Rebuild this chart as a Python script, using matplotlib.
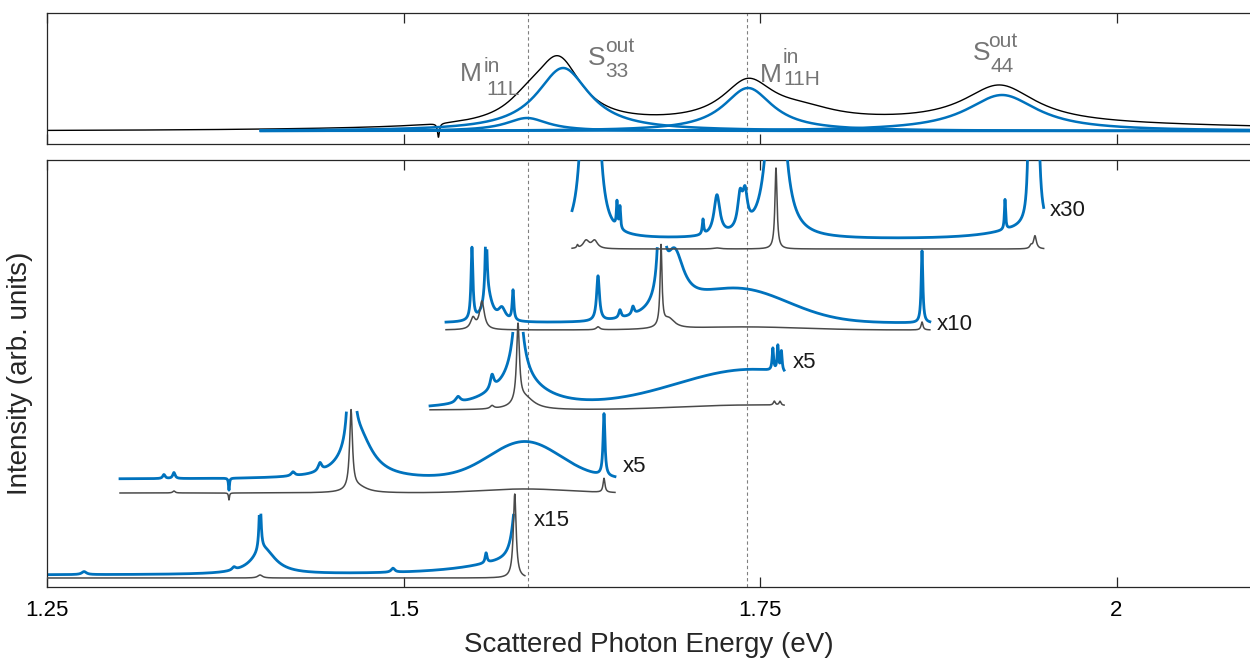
import numpy as np
import matplotlib
matplotlib.use("Agg")
import matplotlib.pyplot as plt

plt.rcParams["font.family"] = ["Liberation Sans", "DejaVu Sans"]

BLUE = "#0072BD"
GRAY = "#4a4a4a"
AXIS = "#262626"
LABEL_GRAY = "#757575"

E_MIN, E_MAX = 1.25, 2.0936
XTICKS = [1.25, 1.5, 1.75, 2.0]
XTICK_LABELS = ["1.25", "1.5", "1.75", "2"]
RESONANCES = [1.587, 1.741]          # M11L, M11H (dashed guides)

# ---- upper panel: excitation spectrum + Lorentzian decomposition
TOP_BASE = 13
# black measured curve, lines are (center eV, height, hwhm eV), bands (center, height, sigma)
TOP_LINES = [(1.5866, 14, 0.018), (1.6085, 64, 0.020), (1.7416, 40, 0.022),
             (1.7800, 10, 0.030), (1.9180, 38, 0.031), (1.5245, -14, 0.0008)]
TOP_BANDS = [(1.85, 7, 0.22)]
# fitted components
FIT_START = 1.40
FIT_CENTERS = [1.5866, 1.6119, 1.7416, 1.9197]
FIT_HEIGHTS = [13, 63, 43, 36]
FIT_HWHM = [0.018, 0.0225, 0.021, 0.0305]
# component names: symbol, superscript, subscript and their anchor points
NAME_MAIN = ["M", "S", "M", "S"]
NAME_SUP = ["in", "out", "in", "out"]
NAME_SUB = ["11L", "33", "11H", "44"]
NAME_XY = [(1.5396, 63), (1.6294, 79), (1.7500, 62), (1.8994, 84)]
SUP_XY = [(1.5562, 72), (1.6413, 92), (1.7658, 81), (1.9099, 97)]
SUB_XY = [(1.5579, 49), (1.6413, 67), (1.7665, 59), (1.9113, 72)]

# ---- lower panel: emission spectra at five excitation energies (stacked)
# spectrum 1 (x15)
S1_RANGE = (1.25, 1.5852)
S1_BLUE_RANGE = (1.25, 1.5785)
S1_GRAY_BASE = 9
S1_GRAY_LINES = [(1.3994, 3, 0.002), (1.5780, 84, 0.0012)]
S1_BLUE_BASE = 12
S1_BLUE_LINES = [(1.2760, 3, 0.002), (1.3811, 3, 0.0015), (1.3994, 55, 0.0008), (1.4020, 25, 0.010),
                 (1.4926, 4, 0.0015), (1.5579, 10, 0.0008), (1.5795, 75, 0.003), (1.5800, 14, 0.040)]
S1_BLUE_BANDS = []
S1_CEIL = 72

# spectrum 2 (x5)
S2_RANGE = (1.3012, 1.6483)
S2_GRAY_BASE = 94
S2_GRAY_LINES = [(1.3390, 2, 0.001), (1.3776, -7, 0.0004), (1.4632, 79, 0.0012),
                 (1.4680, 6, 0.008), (1.6406, 14, 0.0008)]
S2_GRAY_BANDS = [(1.5852, 4, 0.03)]
S2_BLUE_BASE = 108
S2_BLUE_LINES = [(1.3320, 4, 0.001), (1.3390, 6, 0.001), (1.3776, -12, 0.0004), (1.4225, 4, 0.0015),
                 (1.4414, 8, 0.0015), (1.4632, 300, 0.0012), (1.4680, 45, 0.012), (1.6406, 62, 0.0008)]
S2_BLUE_BANDS = [(1.5852, 37, 0.025)]
S2_CEIL = 175

# spectrum 3 (x5)
S3_RANGE = (1.5186, 1.7670)
S3_GRAY_BASE = 177
S3_GRAY_LINES = [(1.5621, 3, 0.0015), (1.5803, 78, 0.0012), (1.5850, 12, 0.008),
                 (1.7600, 4, 0.0008), (1.7640, 4, 0.0008)]
S3_GRAY_BANDS = [(1.745, 5, 0.05)]
S3_BLUE_BASE = 177
S3_BLUE_LINES = [(1.5382, 6, 0.002), (1.5621, 14, 0.0015), (1.5803, 200, 0.0012), (1.5803, 45, 0.006),
                 (1.5803, 25, 0.025), (1.7590, 22, 0.0006), (1.7625, 25, 0.0006), (1.7650, 20, 0.0006)]
S3_BLUE_BANDS = [(1.745, 40, 0.055)]
S3_CEIL = 255

# spectrum 4 (x10)
S4_RANGE = (1.5298, 1.8692)
S4_GRAY_BASE = 257
S4_GRAY_LINES = [(1.5487, 11, 0.002), (1.5550, 28, 0.002), (1.6364, 3, 0.0015), (1.6806, 80, 0.0008),
                 (1.6860, 10, 0.005), (1.8636, 8, 0.0008)]
S4_GRAY_BANDS = [(1.74, 3, 0.04)]
S4_BLUE_BASE = 264
S4_BLUE_LINES = [(1.5480, 72, 0.0008), (1.5579, 72, 0.0008), (1.5590, 25, 0.004), (1.5690, 12, 0.003),
                 (1.5768, 30, 0.0007), (1.6364, 45, 0.0012), (1.6518, 8, 0.001), (1.6609, 8, 0.001),
                 (1.6806, 30, 0.003), (1.6806, 400, 0.0008), (1.6900, 55, 0.008), (1.8636, 72, 0.0007)]
S4_BLUE_BANDS = [(1.735, 33, 0.035)]
S4_CEIL = 340

# spectrum 5 (x30)
S5_RANGE = (1.6182, 1.9490)
S5_GRAY_BASE = 338
S5_GRAY_LINES = [(1.6220, 3, 0.0006), (1.6280, 8, 0.0025), (1.6340, 8, 0.0025), (1.7198, 1, 0.003),
                 (1.7612, 81, 0.0009), (1.9400, 3, 0.001), (1.9428, 13, 0.0012)]
S5_GRAY_BANDS = []
S5_BLUE_BASE = 347
S5_BLUE_LINES = [(1.6280, 240, 0.003), (1.6340, 240, 0.003), (1.6497, 25, 0.0005), (1.6518, 22, 0.0005),
                 (1.7100, 15, 0.0006), (1.7198, 40, 0.0025), (1.7360, 32, 0.002), (1.7395, 32, 0.002),
                 (1.7612, 400, 0.004), (1.9218, 30, 0.0005), (1.9393, 300, 0.0008), (1.9436, 390, 0.0012),
                 (1.9410, 12, 0.03)]
S5_BLUE_BANDS = []
S5_CEIL = None

SCALE_LABELS = ["x15", "x5", "x5", "x10", "x30"]
SCALE_LABEL_X = [1.5915, 1.6539, 1.7731, 1.8741, 1.9534]
SCALE_LABEL_Y = [66, 120, 224, 262, 376]


def lorentz(e, lines):
    out = np.zeros_like(e)
    for c, h, g in lines:
        out += h / (1 + ((e - c) / g) ** 2)
    return out


def gauss(e, bands):
    out = np.zeros_like(e)
    for c, h, s in bands:
        out += h * np.exp(-0.5 * ((e - c) / s) ** 2)
    return out


def style_axes(ax, ylim):
    ax.set_xlim(E_MIN, E_MAX)
    ax.set_ylim(*ylim)
    ax.set_xticks(XTICKS)
    ax.set_yticks([])
    ax.tick_params(axis="x", direction="in", length=7, width=0.9, color=AXIS,
                   top=True, bottom=True, labelsize=16, pad=9)
    for side in ("left", "top", "bottom"):
        ax.spines[side].set_color(AXIS)
        ax.spines[side].set_linewidth(0.9)
    ax.spines["right"].set_visible(False)
    for e in RESONANCES:
        ax.axvline(e, color="#808080", lw=0.8, ls=(0, (3, 2.5)), zorder=0.5)


fig = plt.figure(figsize=(12.5, 6.64), dpi=100)
ax_top = fig.add_axes([47 / 1250, 1 - 144 / 664, 1203 / 1250, 131 / 664])
ax_bot = fig.add_axes([47 / 1250, 1 - 587 / 664, 1203 / 1250, 427 / 664])

# upper panel
e = np.arange(E_MIN, E_MAX, 0.0002)
black = TOP_BASE + lorentz(e, TOP_LINES) + gauss(e, TOP_BANDS)
ax_top.plot(e, black, color="black", lw=1.0, zorder=2)
ef = np.arange(FIT_START, E_MAX, 0.0005)
for c, h, g in zip(FIT_CENTERS, FIT_HEIGHTS, FIT_HWHM):
    ax_top.plot(ef, TOP_BASE + lorentz(ef, [(c, h, g)]), color=BLUE, lw=1.8, zorder=3)
for main, sup, sub, p0, p1, p2 in zip(NAME_MAIN, NAME_SUP, NAME_SUB, NAME_XY, SUP_XY, SUB_XY):
    ax_top.text(*p0, main, color=LABEL_GRAY, fontsize=19, ha="left", va="baseline")
    ax_top.text(*p1, sup, color=LABEL_GRAY, fontsize=15, ha="left", va="baseline")
    ax_top.text(*p2, sub, color=LABEL_GRAY, fontsize=15, ha="left", va="baseline")
style_axes(ax_top, (0, 131))
ax_top.tick_params(axis="x", labelbottom=False)

# lower panel
spectra = [
    (S1_RANGE, S1_BLUE_RANGE, S1_GRAY_BASE, S1_GRAY_LINES, [], S1_BLUE_BASE, S1_BLUE_LINES, S1_BLUE_BANDS, S1_CEIL),
    (S2_RANGE, S2_RANGE, S2_GRAY_BASE, S2_GRAY_LINES, S2_GRAY_BANDS, S2_BLUE_BASE, S2_BLUE_LINES, S2_BLUE_BANDS, S2_CEIL),
    (S3_RANGE, S3_RANGE, S3_GRAY_BASE, S3_GRAY_LINES, S3_GRAY_BANDS, S3_BLUE_BASE, S3_BLUE_LINES, S3_BLUE_BANDS, S3_CEIL),
    (S4_RANGE, S4_RANGE, S4_GRAY_BASE, S4_GRAY_LINES, S4_GRAY_BANDS, S4_BLUE_BASE, S4_BLUE_LINES, S4_BLUE_BANDS, S4_CEIL),
    (S5_RANGE, S5_RANGE, S5_GRAY_BASE, S5_GRAY_LINES, S5_GRAY_BANDS, S5_BLUE_BASE, S5_BLUE_LINES, S5_BLUE_BANDS, S5_CEIL),
]
for i, (rng, brng, gb, gl, gbd, bb, bl, bbd, ceil) in enumerate(spectra):
    e = np.arange(rng[0], rng[1], 0.0001)
    gray = gb + lorentz(e, gl) + gauss(e, gbd)
    eb = np.arange(brng[0], brng[1], 0.0001)
    blue = bb + lorentz(eb, bl) + gauss(eb, bbd)
    if ceil is not None:
        blue = np.where(blue > ceil, np.nan, blue)
    ax_bot.plot(eb, blue, color=BLUE, lw=2.0, zorder=2 + 2 * i)
    ax_bot.plot(e, gray, color=GRAY, lw=1.1, zorder=3 + 2 * i)

for txt, x, y in zip(SCALE_LABELS, SCALE_LABEL_X, SCALE_LABEL_Y):
    ax_bot.text(x, y, txt, fontsize=16, color="#1a1a1a", ha="left", va="center")

style_axes(ax_bot, (0, 427))
ax_bot.set_xticklabels(XTICK_LABELS)
ax_bot.set_xlabel("Scattered Photon Energy (eV)", fontsize=20, color=AXIS, labelpad=8)
ax_bot.set_ylabel("Intensity (arb. units)", fontsize=20, color=AXIS, labelpad=10)

fig.savefig("out.png", dpi=100)
